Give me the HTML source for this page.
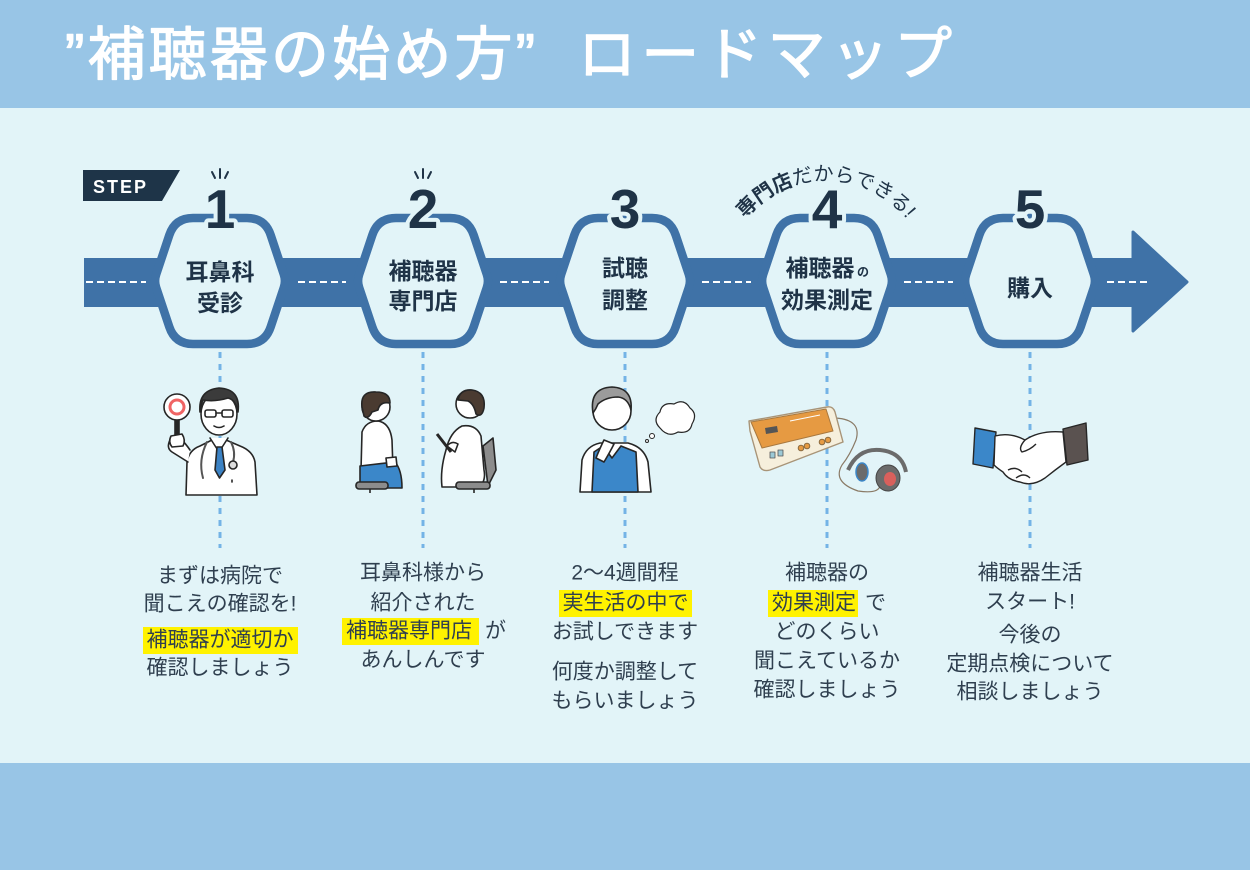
<!DOCTYPE html>
<html><head><meta charset="utf-8">
<style>
html,body{margin:0;padding:0;background:#e2f4f8;}
svg{display:block;}
text{font-family:"Liberation Sans","Noto Sans CJK JP",sans-serif;}
</style></head><body>
<svg width="1250" height="870" viewBox="0 0 1250 870" xmlns="http://www.w3.org/2000/svg">
<defs>
<path id="hex" d="M-27,218 L27,218 Q45,218 50.7,235.1 L63.8,274.4 Q66,281 63.8,287.6 L50.7,326.9 Q45,344 27,344 L-27,344 Q-45,344 -50.7,326.9 L-63.8,287.6 Q-66,281 -63.8,274.4 L-50.7,235.1 Q-45,218 -27,218 Z"/>
<path id="arc" d="M733,238 A104,104 0 0 1 919,238"/>
</defs>
<rect width="1250" height="870" fill="#e2f4f8"/>
<rect width="1250" height="108" fill="#98c5e6"/>
<rect y="763" width="1250" height="107" fill="#98c5e6"/>

<!-- Title -->
<text x="65" y="55" dominant-baseline="central" font-size="58" font-weight="400" fill="#fff" stroke="#fff" stroke-width="1.3" stroke-linejoin="round" textLength="470" lengthAdjust="spacing">”補聴器の始め方”</text>
<text x="578" y="55" dominant-baseline="central" font-size="58" font-weight="400" fill="#fff" stroke="#fff" stroke-width="1.3" stroke-linejoin="round" textLength="374" lengthAdjust="spacing">ロードマップ</text>

<!-- STEP -->
<polygon points="83,170 180,170 162,201 83,201" fill="#1e3448"/>
<text x="93" y="193" font-size="18" font-weight="bold" fill="#fff" textLength="53" lengthAdjust="spacing">STEP</text>

<!-- Band + arrow -->
<rect x="84" y="258" width="1052" height="49" fill="#3f72a7"/>
<path d="M1133,232 L1187,282 L1133,331 Z" fill="#3f72a7" stroke="#3f72a7" stroke-width="3" stroke-linejoin="round"/>
<g stroke="#fff" stroke-width="2" stroke-dasharray="7 4">
<line x1="86" y1="282" x2="146" y2="282"/>
<line x1="298" y1="282" x2="346" y2="282"/>
<line x1="500" y1="282" x2="549" y2="282"/>
<line x1="702" y1="282" x2="751" y2="282"/>
<line x1="904" y1="282" x2="953" y2="282"/>
<line x1="1107" y1="282" x2="1150" y2="282"/>
</g>

<!-- Dotted verticals -->
<g stroke="#74b3e6" stroke-width="3" stroke-dasharray="6 6">
<line x1="220" y1="352" x2="220" y2="548"/>
<line x1="423" y1="352" x2="423" y2="548"/>
<line x1="625" y1="352" x2="625" y2="548"/>
<line x1="827" y1="352" x2="827" y2="548"/>
<line x1="1030" y1="352" x2="1030" y2="548"/>
</g>

<!-- Hexagons -->
<g fill="#e2f4f8" stroke="#3f72a7" stroke-width="8.5">
<use href="#hex" transform="translate(220,0)"/>
<use href="#hex" transform="translate(423,0)"/>
<use href="#hex" transform="translate(625,0)"/>
<use href="#hex" transform="translate(827,0)"/>
<use href="#hex" transform="translate(1030,0)"/>
</g>

<!-- Numbers -->
<g font-size="55" font-weight="bold" fill="#1f3347" stroke="#e2f4f8" stroke-width="8" paint-order="stroke" text-anchor="middle" stroke-linejoin="round">
<text x="220" y="228">1</text>
<text x="423" y="228">2</text>
<text x="625" y="228">3</text>
<text x="827" y="228">4</text>
<text x="1030" y="228">5</text>
</g>
<g stroke="#1f3347" stroke-width="2" stroke-linecap="round">
<line x1="220" y1="169" x2="220" y2="178"/><line x1="212" y1="172" x2="215" y2="178"/><line x1="228" y1="172" x2="225" y2="178"/>
<line x1="423" y1="169" x2="423" y2="178"/><line x1="415" y1="172" x2="418" y2="178"/><line x1="431" y1="172" x2="428" y2="178"/>
</g>

<!-- curved text -->
<text font-size="20" fill="#1f3347"><textPath href="#arc" startOffset="50%" text-anchor="middle"><tspan font-weight="bold">専門店</tspan>だからできる!</textPath></text>

<!-- Hex labels -->
<g font-size="23" font-weight="bold" fill="#1f3347" text-anchor="middle" dominant-baseline="central">
<text x="220" y="272">耳鼻科</text>
<text x="220" y="303">受診</text>
<text x="423" y="271">補聴器</text>
<text x="423" y="301">専門店</text>
<text x="625" y="268">試聴</text>
<text x="625" y="300">調整</text>
<text x="820" y="268">補聴器</text>
<text x="863" y="272" font-size="12">の</text>
<text x="827" y="300">効果測定</text>
<text x="1030" y="288">購入</text>
</g>

<!-- Illustrations -->
<!-- Doctor -->
<g stroke="#262626" stroke-width="1.6" stroke-linejoin="round" stroke-linecap="round">
<path d="M186,495 L187,462 Q189,450 200,446 L212,440 L226,440 L240,446 Q253,451 255,462 L257,495 Z" fill="#fff"/>
<path d="M188,462 L172,452 Q166,448 170,440 L180,438 Q186,444 190,450" fill="#fff"/>
<path d="M210,438 L219,452 L228,438" fill="#fff"/>
<path d="M217,447 L222,447 L225,470 L219.5,478 L215,470 Z" fill="#3b82c4"/>
<ellipse cx="219" cy="414" rx="18" ry="21" fill="#fff"/>
<path d="M200,412 Q198,390 219,388 Q241,389 238,412 Q236,400 228,398 Q215,402 203,400 Q201,405 200,412 Z" fill="#3b3b3b"/>
<rect x="205" y="410" width="11" height="7" rx="2" fill="none"/>
<rect x="222" y="410" width="11" height="7" rx="2" fill="none"/>
<line x1="216" y1="413" x2="222" y2="413"/>
<path d="M214,426 Q219,429 224,426" fill="none"/>
<path d="M207,442 Q198,460 203,478" fill="none" stroke="#555" stroke-width="2"/>
<path d="M231,442 Q236,452 233,462" fill="none" stroke="#555" stroke-width="2"/>
<circle cx="233" cy="465" r="4" fill="#ddd"/>
<line x1="232" y1="480" x2="232" y2="482"/>
<rect x="175" y="418" width="4" height="20" fill="#262626"/>
<circle cx="177" cy="407" r="13" fill="#fff"/>
<circle cx="177" cy="407" r="7" fill="none" stroke="#f06464" stroke-width="3"/>
<path d="M171,436 L182,434 Q186,440 183,446 L172,447 Q168,442 171,436 Z" fill="#fff"/>
</g>
<!-- Seated person A -->
<g stroke="#262626" stroke-width="1.6" stroke-linejoin="round">
<path d="M361,470 L362,432 Q366,421 378,421 Q390,423 392,440 L393,470 Z" fill="#fff"/>
<path d="M360,466 L395,462 Q402,470 402,488 L360,488 Z" fill="#3b87c9"/>
<path d="M386,458 L396,457 L397,466 L387,467 Z" fill="#fff"/>
<circle cx="376" cy="407" r="14" fill="#fff"/>
<path d="M362,407 Q360,391 376,392 Q390,392 390,403 Q380,401 378,410 L372,412 Q368,420 364,416 Z" fill="#4a3b31"/>
<rect x="356" y="482" width="32" height="7" rx="3" fill="#8c8c8c"/>
<line x1="370" y1="489" x2="370" y2="493"/>
</g>
<!-- Seated person B -->
<g stroke="#262626" stroke-width="1.6" stroke-linejoin="round">
<path d="M483,446 L493,438 L496,470 L488,486 Z" fill="#8c8c8c"/>
<path d="M442,487 Q440,470 446,450 Q450,432 462,426 Q476,424 481,436 L484,470 Q486,480 480,487 Z" fill="#fff"/>
<rect x="456" y="482" width="34" height="7" rx="3" fill="#8c8c8c"/>
<line x1="474" y1="489" x2="474" y2="493"/>
<circle cx="470" cy="404" r="14" fill="#fff"/>
<path d="M458,400 Q460,389 472,390 Q486,392 484,408 Q482,418 476,414 Q474,404 468,401 Z" fill="#4a3b31"/>
<line x1="437" y1="434" x2="451" y2="452" stroke-width="3"/>
<path d="M447,446 Q452,440 458,444 L455,452 Z" fill="#fff"/>
</g>
<!-- Thinking man -->
<g stroke="#262626" stroke-width="1.6" stroke-linejoin="round">
<path d="M580,492 L582,460 Q586,446 600,443 L628,443 Q644,447 648,462 L651,492 Z" fill="#fff"/>
<path d="M592,492 L594,452 L603,446 L612,458 L621,446 L636,452 L638,492 Z" fill="#3b87c9"/>
<circle cx="612" cy="411" r="19" fill="#fff"/>
<path d="M593,413 Q589,388 612,387 Q633,388 631,410 Q628,398 618,397 Q606,397 598,404 Q596,409 593,413 Z" fill="#9b9b9b"/>
<path d="M604,440 Q600,448 596,458 L604,462 Q610,452 614,444 Z" fill="#fff"/>
<path d="M660,428 Q652,420 660,412 Q662,402 674,404 Q684,398 690,408 Q698,414 692,424 Q690,434 678,432 Q668,438 660,428 Z" fill="#fff" stroke-width="1.2"/>
<circle cx="652" cy="436" r="2.5" fill="#fff" stroke-width="1"/>
<circle cx="647" cy="441" r="1.5" fill="#fff" stroke-width="1"/>
</g>
<!-- Audiometer -->
<g stroke-linejoin="round">
<path d="M836,418 Q862,420 856,440 Q850,455 842,465 Q832,482 858,491 Q878,494 880,486" fill="none" stroke="#8a7a66" stroke-width="1.2"/>
<path d="M749,421 L827,407 Q833,406 835,412 L843,442 L770,470 Q763,472 760,467 L750,431 Z" fill="#f6efdc" stroke="#a89478" stroke-width="1.4"/>
<path d="M751,422 L826,409 L833,431 L762,448 Z" fill="#e69a42" stroke="#a8783f" stroke-width="1"/>
<polygon points="765,428 777,426 778,432 766,434" fill="#555"/>
<line x1="790" y1="421" x2="820" y2="415" stroke="#fff" stroke-width="1"/>
<g fill="#e69a42" stroke="#8a6a40" stroke-width="1">
<circle cx="801" cy="448" r="2.8"/><circle cx="807" cy="446" r="2.8"/>
<circle cx="822" cy="442" r="2.8"/><circle cx="828" cy="440" r="2.8"/>
</g>
<rect x="770" y="452" width="5" height="6" fill="#9cc9d6" stroke="#555" stroke-width="0.8"/>
<rect x="778" y="450" width="5" height="6" fill="#9cc9d6" stroke="#555" stroke-width="0.8"/>
<path d="M848,470 Q858,448 880,450 Q902,452 906,472" fill="none" stroke="#6b6b6b" stroke-width="4"/>
<ellipse cx="862" cy="472" rx="6" ry="9" fill="#6b6b6b" stroke="#3b87c9" stroke-width="1.5"/>
<ellipse cx="888" cy="478" rx="12" ry="13" fill="#6b6b6b" stroke="#444" stroke-width="1"/>
<ellipse cx="890" cy="479" rx="6" ry="7" fill="#d9605c"/>
</g>
<!-- Handshake -->
<g stroke="#262626" stroke-width="1.4" stroke-linejoin="round">
<path d="M975,428 L996,432 L993,468 L973,464 Z" fill="#3b87c9"/>
<path d="M1063,429 L1086,423 L1088,460 L1067,465 Z" fill="#5a5250"/>
<path d="M995,436 Q1010,432 1025,440 Q1040,430 1063,432 L1066,462 Q1055,470 1045,478 Q1032,487 1020,482 Q1008,480 1003,472 Q997,468 994,465 Z" fill="#fff"/>
<path d="M1025,440 Q1018,448 1022,452 Q1030,450 1036,444" fill="none"/>
<path d="M1008,470 Q1016,466 1022,472 M1016,478 Q1024,472 1030,478" fill="none"/>
</g>

<!-- Descriptions -->
<g fill="#fff200">
<rect x="143" y="627" width="155" height="27"/>
<rect x="342" y="618" width="137" height="27"/>
<rect x="559" y="590" width="133" height="27"/>
<rect x="768" y="590" width="90" height="27"/>
</g>
<g font-size="21" fill="#2f3f4f" dominant-baseline="central">
<g text-anchor="middle">
<text x="220" y="576">まずは病院で</text>
<text x="220" y="604">聞こえの確認を!</text>
<text x="220" y="640">補聴器が適切か</text>
<text x="220" y="668">確認しましょう</text>

<text x="423" y="573">耳鼻科様から</text>
<text x="423" y="603">紹介された</text>
<text x="423" y="660">あんしんです</text>

<text x="625" y="573">2〜4週間程</text>
<text x="625.5" y="603">実生活の中で</text>
<text x="625" y="632">お試しできます</text>
<text x="625" y="672">何度か調整して</text>
<text x="625" y="701">もらいましょう</text>

<text x="827" y="573">補聴器の</text>
<text x="827" y="632">どのくらい</text>
<text x="827" y="661">聞こえているか</text>
<text x="827" y="690">確認しましょう</text>

<text x="1030" y="573">補聴器生活</text>
<text x="1030" y="602">スタート!</text>
<text x="1030" y="635">今後の</text>
<text x="1030" y="664">定期点検について</text>
<text x="1030" y="692">相談しましょう</text>
</g>
<text x="346" y="631">補聴器専門店</text>
<text x="485" y="631">が</text>
<text x="772" y="603">効果測定</text>
<text x="865" y="603">で</text>
</g>
</svg>
</body></html>
